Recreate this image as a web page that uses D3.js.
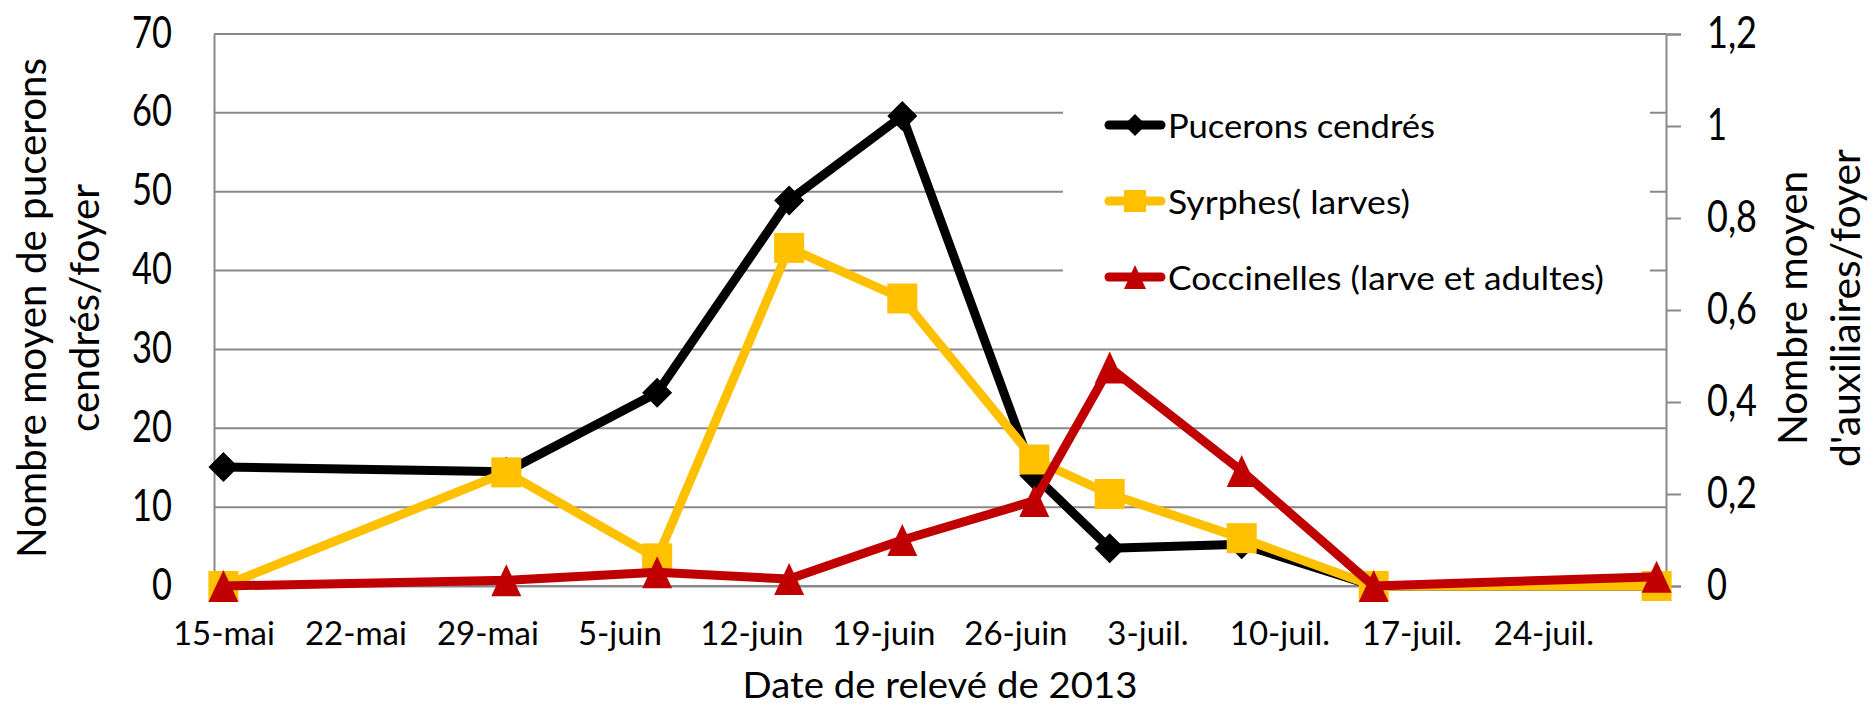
<!DOCTYPE html>
<html>
<head>
<meta charset="utf-8">
<script src="https://cdn.jsdelivr.net/npm/d3@7"></script>
<style>
  body { margin: 0; background: #fff; }
  svg { display: block; font-family: Lato, "Open Sans", sans-serif; }
</style>
</head>
<body>
<div id="chart"></div>
<script>
// relevés 2013
var dates = ["2013-05-15", "2013-05-30", "2013-06-07", "2013-06-14", "2013-06-20",
             "2013-06-27", "2013-07-01", "2013-07-08", "2013-07-15", "2013-07-30"];
var pucerons = [15.1, 14.5, 24.5, 48.9, 59.6, 14.0, 4.8, 5.3, 0, 0];
var syrphes = [0, 0.247, 0.06, 0.735, 0.625, 0.275, 0.2, 0.104, 0, 0];
var coccinelles = [0, 0.0125, 0.03, 0.015, 0.1, 0.185, 0.475, 0.25, 0, 0.02];

var tickDates = ["2013-05-15", "2013-05-22", "2013-05-29", "2013-06-05", "2013-06-12", "2013-06-19",
                 "2013-06-26", "2013-07-03", "2013-07-10", "2013-07-17", "2013-07-24"];
var tickLabels = ["15-mai", "22-mai", "29-mai", "5-juin", "12-juin", "19-juin",
                  "26-juin", "3-juil.", "10-juil.", "17-juil.", "24-juil."];
var leftTicks = [0, 10, 20, 30, 40, 50, 60, 70];
var rightTicks = [0, 0.2, 0.4, 0.6, 0.8, 1, 1.2];

var seriesNames = ["Pucerons cendrés", "Syrphes( larves)", "Coccinelles (larve et adultes)"];
var seriesColors = ["#000000", "#FFC000", "#C00000"];
var seriesMarkers = ["diamond", "square", "triangle"];

var parse = d3.timeParse("%Y-%m-%d");
var gridColor = "#898989";

var margin = { top: 34, right: 208, bottom: 120, left: 214 };
var width = 1874 - margin.left - margin.right;
var height = 706 - margin.top - margin.bottom;

var svg = d3.select("#chart")
    .append("svg")
    .attr("width", 1874)
    .attr("height", 706);

var g = svg.append("g")
    .attr("transform", "translate(" + margin.left + "," + margin.top + ")");

// date axis, half a day of room on each side (like Excel)
var x = d3.scaleTime()
    .domain([d3.timeHour.offset(parse(dates[0]), -12), d3.timeHour.offset(parse(dates[dates.length - 1]), 12)])
    .range([0, width]);

var yLeft = d3.scaleLinear().domain([0, 70]).range([height, 0]);
var yRight = d3.scaleLinear().domain([0, 1.2]).range([height, 0]);

// gridlines
g.selectAll(".grid")
    .data(leftTicks)
    .enter()
    .append("line")
    .attr("class", "grid")
    .attr("x1", 0)
    .attr("x2", width)
    .attr("y1", function (d) { return yLeft(d); })
    .attr("y2", function (d) { return yLeft(d); })
    .attr("stroke", gridColor)
    .attr("stroke-width", 2);

function digitLength(s) {
    var n = 0;
    for (var i = 0; i < s.length; i++) n += (s[i] === "," ? 10 : 20);
    return n;
}

// left axis
var leftAxis = g.append("g")
    .call(d3.axisLeft(yLeft).tickValues(leftTicks).tickSize(0).tickPadding(42));
leftAxis.select(".domain").attr("stroke", gridColor).attr("stroke-width", 2);
leftAxis.selectAll("text")
    .attr("dy", 0)
    .attr("y", 13)
    .attr("fill", "#000")
    .style("font-size", "44px")
    .style("font-family", "Lato")
    .attr("lengthAdjust", "spacingAndGlyphs")
    .attr("textLength", function (d) { return digitLength(String(d)); });

// right axis
var rightAxis = g.append("g")
    .attr("transform", "translate(" + width + ",0)")
    .call(d3.axisRight(yRight).tickValues(rightTicks).tickSizeOuter(0).tickSize(15).tickPadding(26)
        .tickFormat(function (d) { return String(d).replace(".", ","); }));
rightAxis.select(".domain").attr("stroke", gridColor).attr("stroke-width", 2);
rightAxis.selectAll("line").attr("stroke", gridColor).attr("stroke-width", 2);
rightAxis.selectAll("text")
    .attr("dy", 0)
    .attr("y", 13)
    .attr("fill", "#000")
    .style("font-size", "44px")
    .style("font-family", "Lato")
    .attr("lengthAdjust", "spacingAndGlyphs")
    .attr("textLength", function (d) { return digitLength(String(d).replace(".", ",")); });

// bottom axis
var bottomAxis = g.append("g")
    .attr("transform", "translate(0," + height + ")")
    .call(d3.axisBottom(x).tickValues(tickDates.map(parse)).tickSize(0)
        .tickFormat(function (d, i) { return tickLabels[i]; }));
bottomAxis.select(".domain").attr("stroke", gridColor).attr("stroke-width", 2);
bottomAxis.selectAll("text")
    .attr("dy", 0)
    .attr("y", 59)
    .attr("fill", "#000")
    .style("font-size", "33px")
    .style("font-family", "Lato");

// markers
function markerPath(type, s) {
    if (type === "diamond") return "M0," + (-s) + "L" + s + ",0L0," + s + "L" + (-s) + ",0Z";
    if (type === "square") return "M" + (-s) + "," + (-s) + "H" + s + "V" + s + "H" + (-s) + "Z";
    return "M0," + (-s - 1) + "L" + s + "," + (s + 1) + "L" + (-s) + "," + (s + 1) + "Z";
}

var series = [
    { values: pucerons, y: yLeft },
    { values: syrphes, y: yRight },
    { values: coccinelles, y: yRight }
];

series.forEach(function (s, k) {
    var pts = dates.map(function (d, i) { return { date: parse(d), v: s.values[i] }; });
    var line = d3.line()
        .x(function (d) { return x(d.date); })
        .y(function (d) { return s.y(d.v); });

    g.append("path")
        .datum(pts)
        .attr("d", line)
        .attr("fill", "none")
        .attr("stroke", seriesColors[k])
        .attr("stroke-width", 9)
        .attr("stroke-linejoin", "round");

    g.selectAll(".m" + k)
        .data(pts)
        .enter()
        .append("path")
        .attr("class", "m" + k)
        .attr("transform", function (d) { return "translate(" + x(d.date) + "," + s.y(d.v) + ")"; })
        .attr("d", markerPath(seriesMarkers[k], 15))
        .attr("fill", seriesColors[k]);
});

// legend
var legend = svg.append("g");
legend.append("rect")
    .attr("x", 1063)
    .attr("y", 86)
    .attr("width", 587)
    .attr("height", 232)
    .attr("fill", "#fff");

var legendLengths = [267, 242, 436];
seriesNames.forEach(function (name, k) {
    var cy = 125 + k * 76;
    legend.append("line")
        .attr("x1", 1109).attr("x2", 1161)
        .attr("y1", cy).attr("y2", cy)
        .attr("stroke", seriesColors[k])
        .attr("stroke-width", 9)
        .attr("stroke-linecap", "round");
    legend.append("path")
        .attr("transform", "translate(1135," + cy + ")")
        .attr("d", markerPath(seriesMarkers[k], 11))
        .attr("fill", seriesColors[k]);
    legend.append("text")
        .attr("x", 1168)
        .attr("y", cy + 12.5)
        .style("font-size", "33px")
        .attr("lengthAdjust", "spacingAndGlyphs")
        .attr("textLength", legendLengths[k])
        .text(name);
});

// axis titles
svg.append("text")
    .attr("x", margin.left + width / 2)
    .attr("y", 698)
    .attr("text-anchor", "middle")
    .style("font-size", "36px")
    .attr("lengthAdjust", "spacingAndGlyphs")
    .attr("textLength", 395)
    .text("Date de relevé de 2013");

var leftTitle = [["Nombre moyen de pucerons", 46, 500], ["cendrés/foyer", 99, 248]];
leftTitle.forEach(function (t) {
    svg.append("text")
        .attr("transform", "translate(" + t[1] + ",308) rotate(-90)")
        .attr("text-anchor", "middle")
        .style("font-size", "40px")
        .attr("lengthAdjust", "spacingAndGlyphs")
        .attr("textLength", t[2])
        .text(t[0]);
});

var rightTitle = [["Nombre moyen", 1807, 274], ["d'auxiliaires/foyer", 1860, 318]];
rightTitle.forEach(function (t) {
    svg.append("text")
        .attr("transform", "translate(" + t[1] + ",308) rotate(-90)")
        .attr("text-anchor", "middle")
        .style("font-size", "40px")
        .attr("lengthAdjust", "spacingAndGlyphs")
        .attr("textLength", t[2])
        .text(t[0]);
});
</script>
</body>
</html>
